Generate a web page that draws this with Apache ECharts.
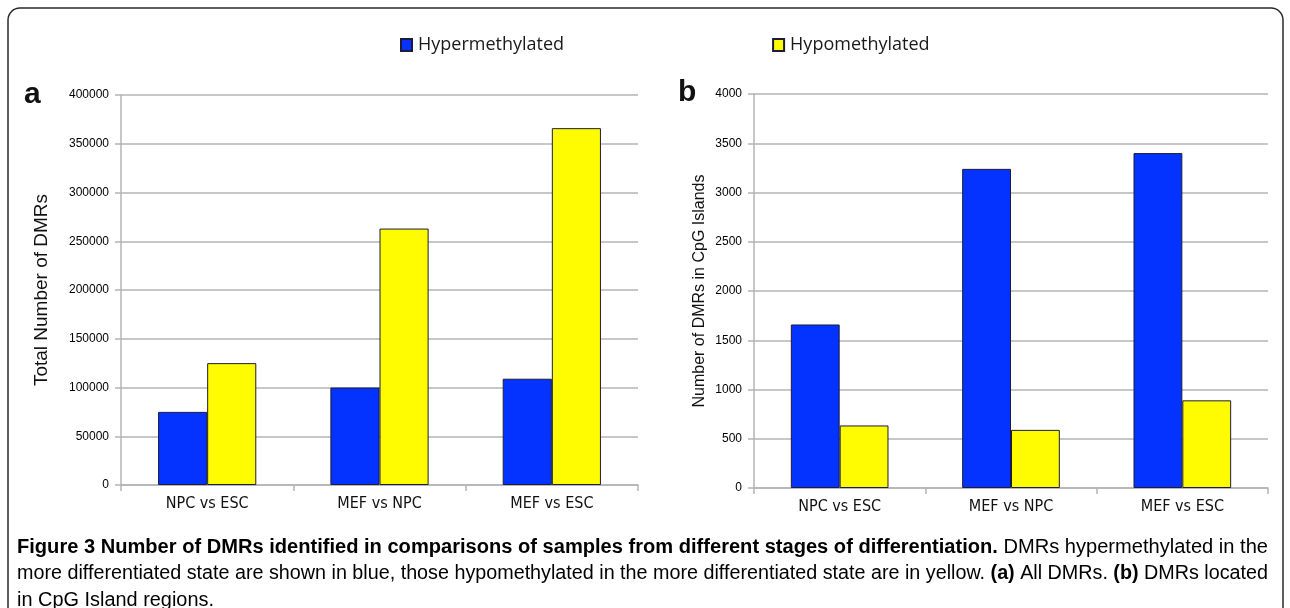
<!DOCTYPE html>
<html>
<head>
<meta charset="utf-8">
<script src="https://cdn.jsdelivr.net/npm/echarts@6/dist/echarts.min.js"></script>
<style>
  html, body { margin: 0; padding: 0; background: #fff; }
  #chart { width: 1290px; height: 608px; }
</style>
</head>
<body>
<div id="chart"></div>
<script>
// Comparisons between differentiation stages
const categories = ['NPC vs ESC', 'MEF vs NPC', 'MEF vs ESC'];
const seriesNames = ['Hypermethylated', 'Hypomethylated'];

// (a) all DMRs
const allHyper = [75000, 100000, 109000];
const allHypo = [125000, 263000, 366000];

// (b) DMRs in CpG islands
const cpgHyper = [1660, 3240, 3400];
const cpgHypo = [635, 590, 890];

const BLUE = '#0433ff';
const YELLOW = '#fffb00';
const EDGE = '#1c1c3a';
const GRID = '#b4b4b4';
const CONDENSED = '"DejaVu Sans Condensed", "DejaVu Sans"';

const chart = echarts.init(document.getElementById('chart'), null, { renderer: 'canvas' });

function xAxisFor(idx) {
  return {
    type: 'category', gridIndex: idx, data: categories,
    axisLine: { lineStyle: { color: GRID, width: 1.5 } },
    axisTick: { show: true, length: 6, lineStyle: { color: GRID, width: 1.5 } },
    axisLabel: { color: '#111', fontFamily: CONDENSED, fontSize: 16, margin: 11 }
  };
}
function yAxisFor(idx, max, interval, name, nameGap, nameSize) {
  return {
    type: 'value', gridIndex: idx, min: 0, max: max, interval: interval,
    name: name, nameLocation: 'middle', nameGap: nameGap, nameRotate: 90,
    nameTextStyle: { color: '#111', fontFamily: 'Liberation Sans', fontSize: nameSize },
    axisLine: { show: true, lineStyle: { color: GRID, width: 1.5 } },
    axisTick: { show: true, length: 6, lineStyle: { color: GRID, width: 1.5 } },
    splitLine: { lineStyle: { color: GRID, width: 1.5 } },
    axisLabel: { color: '#000', fontFamily: 'Liberation Sans', fontSize: 12, margin: 12,
                 formatter: v => String(v) }
  };
}
function bar(name, data, color, xi) {
  return {
    name: name, type: 'bar', xAxisIndex: xi, yAxisIndex: xi, data: data,
    barWidth: '28.5%', barGap: '0%',
    itemStyle: { color: color, borderColor: EDGE, borderWidth: 1 }
  };
}

// Caption: three lines of mixed bold / regular text, each fitted to the column width
const CAP_FONT = '"Liberation Sans"';
const CAP_SIZE = 20;
const CAP_WIDTH = 1251;
const captionLines = [
  [['b', 'Figure 3 Number of DMRs identified in comparisons of samples from different stages of differentiation.'],
   ['n', ' DMRs hypermethylated in the']],
  [['n', 'more differentiated state are shown in blue, those hypomethylated in the more differentiated state are in yellow. '],
   ['b', '(a)'], ['n', ' All DMRs. '], ['b', '(b)'], ['n', ' DMRs located']],
  [['n', 'in CpG Island regions.']]
];
const measureCtx = document.createElement('canvas').getContext('2d');
function segWidth(kind, s) {
  measureCtx.font = (kind === 'b' ? 'bold ' : '') + CAP_SIZE + 'px ' + CAP_FONT;
  return measureCtx.measureText(s).width;
}
const lineWidths = captionLines.map(l => l.reduce((w, [k, s]) => w + segWidth(k, s), 0));
const fitScale = [CAP_WIDTH / lineWidths[0], CAP_WIDTH / lineWidths[1]];
const lineScales = [fitScale[0], fitScale[1], (fitScale[0] + fitScale[1]) / 2];
const capRich = {
  b: { fontFamily: 'Liberation Sans', fontWeight: 'bold', fontSize: CAP_SIZE, color: '#1a1a1a' },
  n: { fontFamily: 'Liberation Sans', fontSize: CAP_SIZE, color: '#4a4a4a' }
};
const esc = s => s.replace(/\|/g, '');
const captionGraphics = captionLines.map((line, i) => ({
  type: 'text', x: 17, y: 537 + i * 26.5, scaleX: lineScales[i], silent: true,
  style: {
    text: line.map(([k, s]) => '{' + k + '|' + esc(s) + '}').join(''),
    rich: capRich
  }
}));

chart.setOption({
  animation: false,
  backgroundColor: '#fff',
  legend: {
    left: 395, top: 31, itemWidth: 11, itemHeight: 12, itemGap: 208,
    icon: 'rect',
    data: seriesNames,
    textStyle: { color: '#1a1a1a', fontFamily: 'Open Sans', fontSize: 18, padding: [0, 0, 0, 1] }
  },
  grid: [
    { left: 121, right: 652, top: 95, bottom: 123 },
    { left: 754, right: 22, top: 94, bottom: 120 }
  ],
  xAxis: [xAxisFor(0), xAxisFor(1)],
  yAxis: [
    yAxisFor(0, 400000, 50000, 'Total Number of DMRs', 70, 19),
    yAxisFor(1, 4000, 500, 'Number of DMRs in CpG Islands', 46, 16)
  ],
  series: [
    bar(seriesNames[0], allHyper, BLUE, 0),
    bar(seriesNames[1], allHypo, YELLOW, 0),
    bar(seriesNames[0], cpgHyper, BLUE, 1),
    bar(seriesNames[1], cpgHypo, YELLOW, 1)
  ],
  graphic: [
    { type: 'rect', silent: true, shape: { x: 8, y: 8, width: 1275, height: 720, r: 12 },
      style: { fill: 'none', stroke: '#2a2a2a', lineWidth: 1.5 } },
    { type: 'text', left: 24, top: 80,
      style: { text: 'a', font: 'bold 30px "Liberation Sans"', fill: '#111' } },
    { type: 'text', left: 678, top: 78,
      style: { text: 'b', font: 'bold 30px "Liberation Sans"', fill: '#111' } }
  ].concat(captionGraphics)
});
</script>
</body>
</html>
